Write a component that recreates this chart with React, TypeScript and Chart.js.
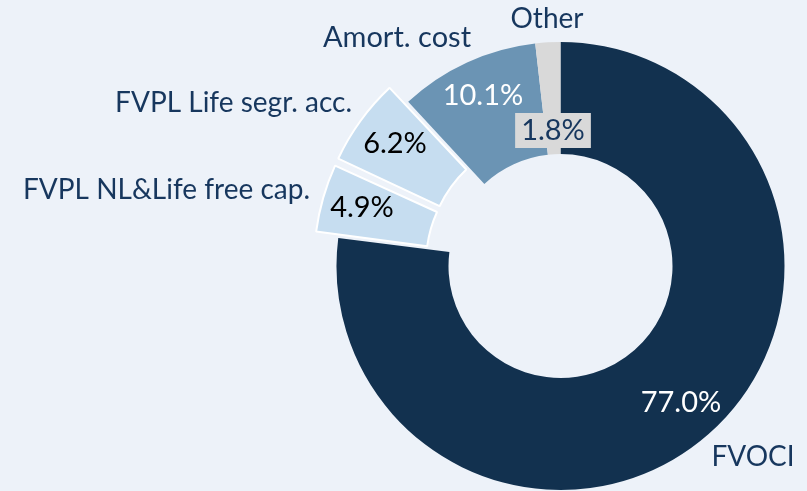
import React, { useEffect, useRef } from "react";
import { Chart, registerables } from "chart.js";

Chart.register(...registerables);

const categories = ["FVOCI", "FVPL NL&Life free cap.", "FVPL Life segr. acc.", "Amort. cost", "Other"];
const shares = [77.0, 4.9, 6.2, 10.1, 1.8];
const sliceColors = ["#12314f", "#c6ddf0", "#c6ddf0", "#6b94b4", "#d9d9d9"];
const sliceOffsets = [0, 54, 57, 0, 0];
const sliceBorders = [0, 2, 2, 0, 0];

const BG = "#edf2f9";
const LABEL_COLOR = "#17375e";
const FONT = "Lato, 'Open Sans', sans-serif";

// label layout (text placement only)
const categoryLabelLayout = [
  { x: 753, y: 466, align: "center", size: 28 },
  { x: 310, y: 199, align: "right", size: 28 },
  { x: 352, y: 112, align: "right", size: 28 },
  { x: 397, y: 47, align: "center", size: 29 },
  { x: 547, y: 28, align: "center", size: 28 },
];
const valueLabelLayout = [
  { x: 681, y: 412, color: "#ffffff", box: null },
  { x: 362, y: 217, color: "#000000", box: null },
  { x: 395, y: 153, color: "#000000", box: null },
  { x: 483, y: 105, color: "#ffffff", box: null },
  { x: 553, y: 140, color: LABEL_COLOR, box: "#d9d9d9" },
];

const labelPlugin = {
  id: "sliceLabels",
  afterDatasetsDraw(chart: any) {
    const ctx = chart.ctx as CanvasRenderingContext2D;
    const total = shares.reduce((a, b) => a + b, 0);
    ctx.save();
    ctx.textBaseline = "alphabetic";
    // category labels
    ctx.fillStyle = LABEL_COLOR;
    categories.forEach((c, i) => {
      const l = categoryLabelLayout[i];
      ctx.font = `${l.size}px ${FONT}`;
      ctx.textAlign = l.align as CanvasTextAlign;
      ctx.fillText(c, l.x, l.y);
    });
    // value labels
    ctx.font = `29px ${FONT}`;
    ctx.textAlign = "center";
    shares.forEach((v, i) => {
      const l = valueLabelLayout[i];
      const txt = ((v / total) * 100).toFixed(1) + "%";
      if (l.box) {
        const w = ctx.measureText(txt).width;
        ctx.fillStyle = l.box;
        ctx.fillRect(l.x - w / 2 - 6, l.y - 27, w + 12, 35);
      }
      ctx.fillStyle = l.color;
      ctx.fillText(txt, l.x, l.y);
    });
    ctx.restore();
  },
};

export default function App() {
  const ref = useRef<HTMLCanvasElement | null>(null);
  useEffect(() => {
    document.body.style.margin = "0";
    document.body.style.background = BG;
    const chart = new Chart(ref.current as HTMLCanvasElement, {
      type: "doughnut",
      data: {
        labels: categories,
        datasets: [
          {
            data: shares,
            backgroundColor: sliceColors,
            borderColor: "#ffffff",
            borderWidth: sliceBorders,
            offset: sliceOffsets,
          },
        ],
      },
      options: {
        responsive: false,
        animation: false,
        radius: 224,
        cutout: "50%",
        layout: { padding: { left: 314, top: 41, right: 0, bottom: 0 } },
        plugins: { legend: { display: false }, tooltip: { enabled: false } },
      },
      plugins: [labelPlugin],
    } as any);
    return () => chart.destroy();
  }, []);
  return (
    <div style={{ position: "absolute", left: 0, top: 0, width: 807, height: 491, background: BG }}>
      <canvas ref={ref} width={807} height={491} />
    </div>
  );
}
